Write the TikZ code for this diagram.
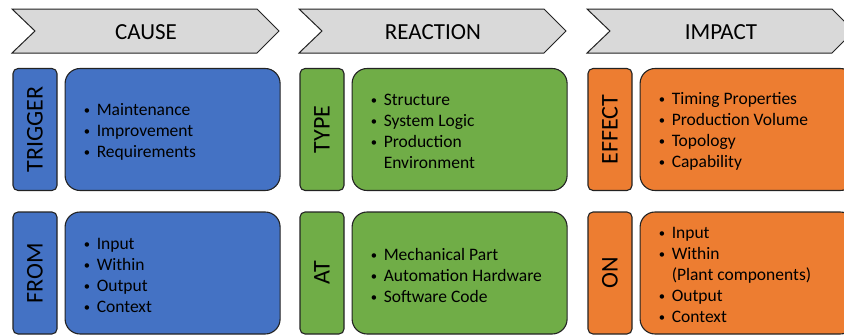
\documentclass[tikz,border=0pt]{standalone}
\usepackage{fontspec}
\setmainfont{Carlito}
\usetikzlibrary{
  positioning,
  calc
}
\definecolor{headGray}{RGB}{217,217,217}
\definecolor{causeBlue}{RGB}{68,114,196}
\definecolor{reactionGreen}{RGB}{112,173,71}
\definecolor{impactOrange}{RGB}{237,125,49}
\definecolor{lineDark}{RGB}{35,35,35}
\newcommand{\itm}{\makebox[13pt][l]{\raisebox{0.12ex}{\scalebox{0.72}{\textbullet}}}}
\newcommand{\cont}{\hspace*{13pt}}
\newcommand{\tagPair}[5]{\node[tagBox,fill=#4] (#1Tag) at (#2,#3)
  {\rotatebox{90}{#5}};
  \node[listBox,fill=#4,right=7pt of #1Tag] (#1Box) {};}
\tikzset{
  headArrow/.style={
    draw=lineDark,
    fill=headGray,
    line width=1pt,
    line join=miter
  }
}
\tikzset{
  headText/.style={
    font=\fontsize{23}{27}\selectfont,
    text=black
  }
}
\tikzset{
  tagBox/.style={
    rectangle,
    draw=lineDark,
    line width=1.1pt,
    rounded corners=5pt,
    minimum width=44pt,
    minimum height=122pt,
    inner sep=0pt,
    font=\fontsize{24}{28}\selectfont
  }
}
\tikzset{
  listBox/.style={
    rectangle,
    draw=lineDark,
    line width=1.1pt,
    rounded corners=15pt,
    minimum width=215pt,
    minimum height=122pt,
    inner sep=0pt
  }
}
\tikzset{
  itemText/.style={
    align=left,
    inner sep=0pt,
    yshift=-2pt,
    text=black,
    font=\fontsize{17.5}{21}\selectfont
  }
}

\begin{document}
\begin{tikzpicture}[x=1pt, y=-1pt]
    \useasboundingbox (0,0) rectangle (844,335);
    \clip (0,0) rectangle (844,335);
    \foreach \x/\name/\head in {12/cause/CAUSE, 299/reaction/REACTION, 587/impact/IMPACT}{
      \draw[headArrow] (\x,9) -- ++(245,0) -- ++(22,22) -- ++(-22,22)
      -- ++(-245,0) -- ++(23,-22) -- cycle;
      \node[headText] (\name Head) at (\x+134,32) {\head};
    }
    % cause
    \tagPair{trigger}{35}{129.5}{causeBlue}{TRIGGER}
    \tagPair{from}{35}{273}{causeBlue}{FROM}
    % reaction
    \tagPair{type}{322}{129.5}{reactionGreen}{TYPE}
    \tagPair{at}{322}{273}{reactionGreen}{AT}
    % impact
    \tagPair{effect}{610}{129.5}{impactOrange}{EFFECT}
    \tagPair{on}{610}{273}{impactOrange}{ON}
    \node[itemText, right=19pt of triggerBox.west] (triggerList)
    {\itm Maintenance\\ \itm Improvement\\ \itm Requirements};
    \node[itemText, right=19pt of fromBox.west] (fromList)
    {\itm Input\\ \itm Within\\ \itm Output\\ \itm Context};
    \node[itemText, right=19pt of typeBox.west] (typeList)
    {\itm Structure\\ \itm System Logic\\ \itm Production\\ \cont Environment};
    \node[itemText, right=19pt of atBox.west] (atList)
    {\itm Mechanical Part\\ \itm Automation Hardware\\ \itm Software Code};
    \node[itemText, right=19pt of effectBox.west] (effectList)
    {\itm Timing Properties\\ \itm Production Volume\\ \itm Topology\\ \itm Capability};
    \node[itemText, right=19pt of onBox.west] (onList)
    {\itm Input\\ \itm Within\\ \cont (Plant components)\\ \itm Output\\ \itm Context};
  \end{tikzpicture}
\end{document}
